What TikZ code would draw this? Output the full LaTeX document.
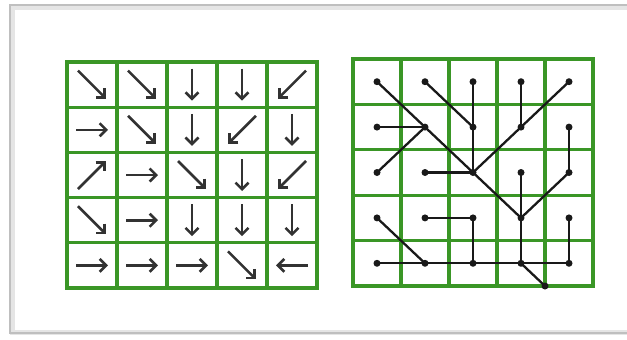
\documentclass[tikz,border=0pt]{standalone}
\usetikzlibrary{arrows.meta}
\definecolor{gridgreen}{RGB}{58,150,38}
\definecolor{arrowgray}{RGB}{50,50,50}
\definecolor{treeblack}{RGB}{25,25,25}
\tikzset{
  gridline/.style={draw=gridgreen, line width=3.2pt, line cap=rect},
  cellarrow/.style={draw=arrowgray, line width=2.6pt, -{Straight Barb[length=6.5pt,width=13pt]}},
  treeedge/.style={draw=treeblack, line width=2.3pt},
  treedot/.style={circle, fill=treeblack, inner sep=0pt, minimum size=7pt},
  framegray/.style={draw=black!25, line width=2.5pt},
}
\begin{document}
\begin{tikzpicture}[x=1pt,y=-1pt]
\useasboundingbox (0,0) rectangle (627,340);
% frame
\draw[black!10, line width=5pt] (640,7) -- (12,7) -- (12,332) -- (640,332);
\draw[framegray] (640,5) -- (10,5) -- (10,333) -- (640,333);
% left grid
\def\lx{67}\def\ly{62}\def\ldx{50}\def\ldy{45.2}
\foreach \k in {0,...,5} {
  \draw[gridline] (\lx+\k*\ldx,\ly) -- (\lx+\k*\ldx,\ly+5*\ldy);
  \draw[gridline] (\lx,\ly+\k*\ldy) -- (\lx+5*\ldx,\ly+\k*\ldy);
}
\foreach \i/\j/\u/\v in {
  1/1/1/1, 1/2/1/1, 1/3/0/1, 1/4/0/1, 1/5/-1/1,
  2/1/1/0, 2/2/1/1, 2/3/0/1, 2/4/-1/1, 2/5/0/1,
  3/1/1/-1, 3/2/1/0, 3/3/1/1, 3/4/0/1, 3/5/-1/1,
  4/1/1/1, 4/2/1/0, 4/3/0/1, 4/4/0/1, 4/5/0/1,
  5/1/1/0, 5/2/1/0, 5/3/1/0, 5/4/1/1, 5/5/-1/0} {
  \pgfmathsetmacro{\cx}{\lx+(\j-0.5)*\ldx}
  \pgfmathsetmacro{\cy}{\ly+(\i-0.5)*\ldy}
  \pgfmathsetmacro{\h}{(\u!=0 && \v!=0) ? 14 : 16}
  \coordinate (a\i\j s) at (\cx-\u*\h,\cy-\v*\h);
  \coordinate (a\i\j e) at (\cx+\u*\h,\cy+\v*\h);
  \draw[cellarrow] (a\i\j s) -- (a\i\j e);
}
% right grid
\def\rx{353}\def\ry{59}\def\rdx{48}\def\rdy{45.4}
\foreach \k in {0,...,5} {
  \draw[gridline] (\rx+\k*\rdx,\ry) -- (\rx+\k*\rdx,\ry+5*\rdy);
  \draw[gridline] (\rx,\ry+\k*\rdy) -- (\rx+5*\rdx,\ry+\k*\rdy);
}
\foreach \i in {1,...,5} {
  \foreach \j in {1,...,5} {
    \node[treedot] (t\i\j) at (\rx+\j*\rdx-0.5*\rdx,\ry+\i*\rdy-0.5*\rdy) {};
  }
}
\node[treedot] (root) at (\rx+4*\rdx,\ry+5*\rdy) {};
\foreach \a/\b in {
  11/22, 12/23, 13/23, 14/24, 15/24,
  21/22, 22/33, 23/33, 24/33, 25/35,
  31/22, 32/33, 33/44, 34/44, 35/44,
  41/52, 42/43, 43/53, 44/54, 45/55,
  51/52, 52/53, 53/54, 55/54} {
  \draw[treeedge] (t\a.center) -- (t\b.center);
}
\draw[treeedge] (t54.center) -- (root.center);
\end{tikzpicture}
\end{document}
